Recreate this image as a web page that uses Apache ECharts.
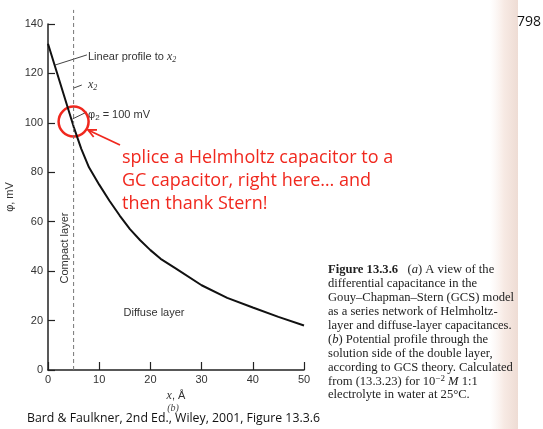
<!DOCTYPE html>
<html>
<head>
<meta charset="utf-8">
<script src="https://cdn.jsdelivr.net/npm/echarts@6/dist/echarts.min.js"></script>
<style>
html,body{margin:0;padding:0;background:#fff;}
#main{width:543px;height:429px;}
</style>
</head>
<body>
<div id="main"></div>
<script>
// potential profile, x in Å, phi in mV
const xVals = [0, 5, 6.5, 8, 10, 12, 14, 16, 18, 20, 22, 25, 30, 35, 40, 45, 50]
const phiVals = [132, 98.5, 89.5, 82, 75, 68.5, 62.5, 57, 52.5, 48.5, 45, 41, 34.3, 29.2, 25.3, 21.5, 18]
// x2 boundary (dashed line)
const x2 = 5
const x2Top = 145.7
// annotation anchors in data coords
const linearLeader = [[1.4, 123.4], [7.6, 127.5]]
const x2Leader = [[4.9, 114], [6.6, 115.3]]
const phi2Leader = [[4.8, 101.6], [7.6, 104.4]]
const circleCenter = [5, 100.5]

const chart = echarts.init(document.getElementById('main'))
const axisFont = 'Liberation Sans'
const serif = 'Liberation Serif'

const option = {
    backgroundColor: '#fff',
    animation: false,
    grid: {left: 48, right: 239, top: 24, bottom: 59},
    xAxis: {
        type: 'value', min: 0, max: 50, interval: 10,
        axisLine: {lineStyle: {color: '#222', width: 1.5}},
        axisTick: {inside: true, length: 8, lineStyle: {color: '#222', width: 1.2}},
        axisLabel: {margin: 4, color: '#333', fontSize: 11, fontFamily: axisFont},
        splitLine: {show: false},
        name: '{i|x}, Å',
        nameLocation: 'middle',
        nameGap: 18,
        nameTextStyle: {
            color: '#333', fontSize: 11, fontFamily: axisFont,
            rich: {i: {fontFamily: serif, fontStyle: 'italic', fontSize: 12, color: '#333'}}
        }
    },
    yAxis: {
        type: 'value', min: 0, max: 140, interval: 20,
        axisLine: {show: true, lineStyle: {color: '#222', width: 1.5}},
        axisTick: {show: true, inside: true, length: 7, lineStyle: {color: '#222', width: 1.2}},
        axisLabel: {margin: 5, color: '#333', fontSize: 11, fontFamily: axisFont},
        splitLine: {show: false},
        name: 'φ, mV',
        nameLocation: 'middle',
        nameGap: 33,
        nameRotate: 90,
        nameTextStyle: {color: '#333', fontSize: 11, fontFamily: axisFont}
    },
    series: [
        {
            type: 'line',
            data: xVals.map((x, i) => [x, phiVals[i]]),
            showSymbol: false,
            smooth: false,
            silent: true,
            lineStyle: {color: '#111', width: 2}
        },
        {
            type: 'line',
            data: [[x2, 0], [x2, x2Top]],
            showSymbol: false,
            clip: false,
            silent: true,
            lineStyle: {color: '#777', width: 1, type: [4, 3]}
        }
    ]
}
chart.setOption(option)

// graphic overlays, placed after the grid exists
const px = p => chart.convertToPixel({gridIndex: 0}, p)
function leader(pts) {
    const a = px(pts[0]), b = px(pts[1])
    return {type: 'line', shape: {x1: a[0], y1: a[1], x2: b[0], y2: b[1]}, style: {stroke: '#444', lineWidth: 1}}
}
const c = px(circleCenter)
const arrowFrom = [120, 145], arrowTo = [88, 130]
const dx = arrowFrom[0] - arrowTo[0], dy = arrowFrom[1] - arrowTo[1]
const len = Math.sqrt(dx * dx + dy * dy)
const ux = dx / len, uy = dy / len
const rot = (ang) => [arrowTo[0] + 9 * (ux * Math.cos(ang) - uy * Math.sin(ang)), arrowTo[1] + 9 * (ux * Math.sin(ang) + uy * Math.cos(ang))]
const labelRich = {
    i: {fontFamily: serif, fontStyle: 'italic', fontSize: 12, fill: '#333'},
    s: {fontFamily: serif, fontStyle: 'italic', fontSize: 8, fill: '#333', verticalAlign: 'bottom', padding: [6, 0, 0, 0]},
    n: {fontFamily: axisFont, fontSize: 8, fill: '#333', padding: [6, 0, 0, 0]}
}
const capSize = 12.6
const capRich = {
    b: {fontFamily: serif, fontWeight: 'bold', fontSize: capSize, fill: '#222'},
    i: {fontFamily: serif, fontStyle: 'italic', fontSize: capSize, fill: '#222'},
    sup: {fontFamily: serif, fontSize: 9, fill: '#222', padding: [0, 0, 6, 0]}
}
const capLines = [
    '{b|Figure 13.3.6}   ({i|a}) A view of the',
    'differential capacitance in the',
    'Gouy–Chapman–Stern (GCS) model',
    'as a series network of Helmholtz-',
    'layer and diffuse-layer capacitances.',
    '({i|b}) Potential profile through the',
    'solution side of the double layer,',
    'according to GCS theory. Calculated',
    'from (13.3.23) for 10{sup|−2} {i|M} 1:1',
    'electrolyte in water at 25°C.'
]
const red = '#f0281e'
const noteFont = 'Open Sans'
const graphics = [
    {
        type: 'rect', z: -1, silent: true,
        shape: {x: 490, y: 0, width: 28, height: 429},
        style: {fill: new echarts.graphic.LinearGradient(0, 0, 1, 0, [
            {offset: 0, color: 'rgba(250,240,236,0)'},
            {offset: 0.5, color: 'rgba(247,234,228,1)'},
            {offset: 1, color: 'rgba(238,220,212,1)'}
        ])}
    },
    leader(linearLeader), leader(x2Leader), leader(phi2Leader),
    {type: 'text', x: 88, y: 57, style: {text: 'Linear profile to {i|x}{s|2}', rich: labelRich, fontFamily: axisFont, fontSize: 11, fill: '#333', verticalAlign: 'middle'}},
    {type: 'text', x: 88, y: 85, style: {text: '{i|x}{s|2}', rich: labelRich, fontFamily: axisFont, fontSize: 11, fill: '#333', verticalAlign: 'middle'}},
    {type: 'text', x: 88, y: 115, style: {text: 'φ{n|2} = 100 mV', rich: labelRich, fontFamily: axisFont, fontSize: 11, fill: '#333', verticalAlign: 'middle'}},
    {type: 'circle', shape: {cx: c[0], cy: c[1], r: 15}, style: {fill: 'none', stroke: red, lineWidth: 2.5}},
    {type: 'line', shape: {x1: arrowFrom[0], y1: arrowFrom[1], x2: arrowTo[0], y2: arrowTo[1]}, style: {stroke: red, lineWidth: 1.8}},
    {type: 'polyline', shape: {points: [rot(0.45), arrowTo, rot(-0.45)]}, style: {fill: 'none', stroke: red, lineWidth: 1.8}},
    {type: 'text', x: 122, y: 158, style: {text: 'splice a Helmholtz capacitor to a', fontFamily: noteFont, fontSize: 18, fill: red, verticalAlign: 'middle'}},
    {type: 'text', x: 122, y: 181, style: {text: 'GC capacitor, right here… and', fontFamily: noteFont, fontSize: 18, fill: red, verticalAlign: 'middle'}},
    {type: 'text', x: 122, y: 204, style: {text: 'then thank Stern!', fontFamily: noteFont, fontSize: 18, fill: red, verticalAlign: 'middle'}},
    {type: 'text', x: 65, y: 248, rotation: Math.PI / 2, style: {text: 'Compact layer', fontFamily: axisFont, fontSize: 11, fill: '#333', align: 'center', verticalAlign: 'middle'}},
    {type: 'text', x: 154, y: 313, style: {text: 'Diffuse layer', fontFamily: axisFont, fontSize: 11, fill: '#333', align: 'center', verticalAlign: 'middle'}},
    {type: 'text', x: 173, y: 408, style: {text: '(b)', fontFamily: serif, fontStyle: 'italic', fontSize: 10, fill: '#444', align: 'center', verticalAlign: 'middle'}},
    {type: 'text', x: 27, y: 418, style: {text: 'Bard & Faulkner, 2nd Ed., Wiley, 2001, Figure 13.3.6', fontFamily: noteFont, fontSize: 12.3, fill: '#111', verticalAlign: 'middle'}},
    {type: 'text', x: 517, y: 22, style: {text: '798', fontFamily: noteFont, fontSize: 14, fill: '#111', verticalAlign: 'middle'}}
]
capLines.forEach((t, i) => {
    graphics.push({type: 'text', x: 328, y: 270 + i * 13.9, style: {text: t, rich: capRich, fontFamily: serif, fontSize: capSize, fill: '#222', verticalAlign: 'middle'}})
})
chart.setOption({graphic: graphics})
</script>
</body>
</html>
